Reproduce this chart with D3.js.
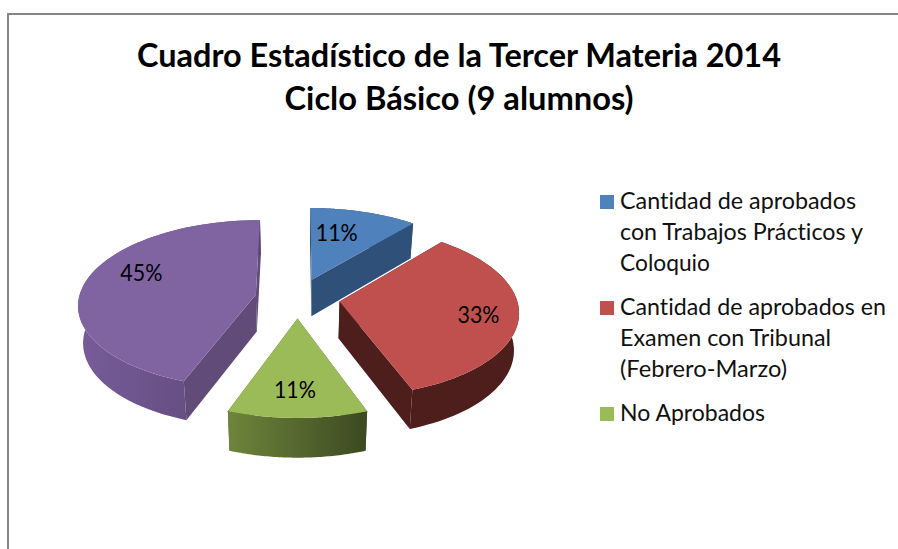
<!DOCTYPE html>
<html><head><meta charset="utf-8">
<script src="https://cdn.jsdelivr.net/npm/d3@7"></script>
<style>html,body{margin:0;padding:0;background:#fff}svg{display:block}text{font-variant-ligatures:none}</style>
</head><body><svg id="c" width="898" height="549"></svg>
<script>
// DATA
const titleLines = ["Cuadro Estadístico de la Tercer Materia 2014", "Ciclo Básico (9 alumnos)"];
const categories = ["Cantidad de aprobados con Trabajos Prácticos y Coloquio",
  "Cantidad de aprobados en Examen con Tribunal (Febrero-Marzo)",
  "No Aprobados", "Sin rótulo"];
const values = [1, 3, 1, 4];   // alumnos (9 en total)
const percentLabels = ["11%", "33%", "11%", "45%"];
const legendLines = [["Cantidad de aprobados","con Trabajos Prácticos y","Coloquio"],
  ["Cantidad de aprobados en","Examen con Tribunal","(Febrero-Marzo)"],
  ["No Aprobados"]];

// STYLE
const topColors = ["#4F81BD","#C0504D","#9BBB59","#8064A2"];
const radialColors = ["#2F5078","#4E1E1C","#55692F","#614B78"];
const wallGrad = [["#2F5078","#2F5078"],["#4E1E1C","#4E1E1C"],["#6E853B","#3C4921"],["#775C9A","#5A4672"]];
const labelPlace = [[14.4,.647],[102,.78],[181,.743],[292,.73]];   // angle (deg), radius fraction
const drawOrder = [0,3,1,2];

// 3D pie projection (unit radius pie plane -> screen)
const cx=297.5, cy=298, A=177, B=83.4, p=.111, explode=.24, D=37, botScale=.977;
const projTop = (u,v)=>{const w=1+p*v; return [cx+A*u/w, cy-B*v/w];};
const projBot = (u,v)=>{const w=1+p*v; return [cx+botScale*A*u/w, cy-B*v/w + D/(1+.5*p*v)];};

const svg=d3.select("#c");
const defs=svg.append("defs");
const line=d3.line();

// frame
svg.append("path").attr("d","M8,549V14H898").attr("fill","none").attr("stroke","#868686").attr("stroke-width",2);

const arcs=d3.pie().sort(null).value(d=>d)(values);
const sliceG=svg.append("g");
drawOrder.forEach(i=>{
  const a=arcs[i], mid=(a.startAngle+a.endAngle)/2;
  const ax=explode*Math.sin(mid), ay=explode*Math.cos(mid);
  const N=60, rim=d3.range(N+1).map(k=>{
    const t=a.startAngle+(a.endAngle-a.startAngle)*k/N;
    return [ax+Math.sin(t), ay+Math.cos(t)];
  });
  const top=rim.map(q=>projTop(q[0],q[1])), bot=rim.map(q=>projBot(q[0],q[1]));
  const apexT=projTop(ax,ay), apexB=projBot(ax,ay);
  const g=sliceG.append("g");
  g.append("path").attr("d",line([apexT,top[0],bot[0],apexB])+"Z").attr("fill",radialColors[i]);
  g.append("path").attr("d",line([apexT,top[N],bot[N],apexB])+"Z").attr("fill",radialColors[i]);
  const xs=top.concat(bot).map(q=>q[0]);
  const gid="wall"+i;
  const lg=defs.append("linearGradient").attr("id",gid).attr("gradientUnits","userSpaceOnUse")
    .attr("x1",d3.min(xs)).attr("x2",d3.max(xs)).attr("y1",0).attr("y2",0);
  lg.append("stop").attr("offset",0).attr("stop-color",wallGrad[i][0]);
  lg.append("stop").attr("offset",1).attr("stop-color",wallGrad[i][1]);
  g.append("path").attr("d",line(top.concat(bot.slice().reverse()))+"Z").attr("fill",`url(#${gid})`);
  g.append("path").attr("d",line([apexT].concat(top))+"Z").attr("fill",topColors[i]);
});

// data labels
const labelG=svg.append("g").attr("font-family","Lato, sans-serif").attr("font-size",24).attr("fill","#000").attr("text-anchor","middle");
arcs.forEach((a,i)=>{
  const mid=(a.startAngle+a.endAngle)/2;
  const ang=labelPlace[i][0]*Math.PI/180, r=labelPlace[i][1];
  const pos=projTop(explode*Math.sin(mid)+r*Math.sin(ang), explode*Math.cos(mid)+r*Math.cos(ang));
  labelG.append("text").attr("x",pos[0]).attr("y",pos[1]+8).attr("textLength",42).attr("lengthAdjust","spacingAndGlyphs").text(percentLabels[i]);
});

// title
const titleW=[644,349], titleY=[67,110];
svg.append("g").attr("font-family","Lato, sans-serif").attr("font-weight",700).attr("font-size",33).attr("fill","#000").attr("text-anchor","middle")
  .selectAll("text").data(titleLines).join("text")
  .attr("x",459).attr("y",(d,i)=>titleY[i]).attr("textLength",(d,i)=>titleW[i]).attr("lengthAdjust","spacingAndGlyphs").text(d=>d);

// legend
const legY=[[209,240,271],[315,346,377],[421]];
const legW=[[236,243,90],[266,211,167],[145]];
const leg=svg.append("g").attr("font-family","Lato, sans-serif").attr("font-size",24).attr("fill","#111");
legendLines.forEach((ls,i)=>{
  leg.append("rect").attr("x",600).attr("y",legY[i][0]-14).attr("width",14).attr("height",14).attr("fill",topColors[i]);
  ls.forEach((t,j)=>leg.append("text").attr("x",620).attr("y",legY[i][j]).attr("textLength",legW[i][j]).attr("lengthAdjust","spacingAndGlyphs").text(t));
});
</script></body></html>
